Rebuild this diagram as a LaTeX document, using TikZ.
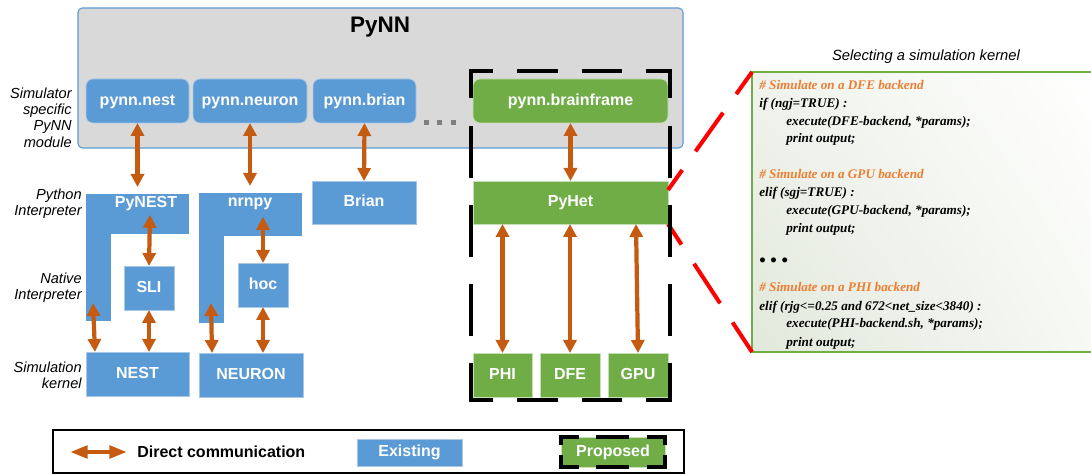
\documentclass[tikz,border=0pt]{standalone}
\usepackage{fontspec}
\setmainfont{Liberation Sans}
\newfontfamily\codefont{Liberation Serif}
\usetikzlibrary{arrows.meta,calc,shadings}

\definecolor{bluec}{HTML}{5B9BD5}
\definecolor{bluee}{HTML}{A9C8E8}
\definecolor{greenc}{HTML}{70AD47}
\definecolor{greene}{HTML}{C5E0B4}
\definecolor{grayc}{HTML}{D9D9D9}
\definecolor{arrowc}{HTML}{C55A11}
\definecolor{codeor}{HTML}{ED7D31}
\definecolor{dotc}{HTML}{7F7F7F}
\definecolor{codell}{RGB}{226,232,219}
\definecolor{codeul}{RGB}{240,243,236}
\definecolor{codelr}{RGB}{247,249,245}

\begin{document}
\begin{tikzpicture}[x=0.02cm,y=-0.02cm,
  bx/.style 2 args={minimum width={#1*0.02cm},minimum height={#2*0.02cm},inner sep=0pt,outer sep=0pt},
  boxfont/.style={font=\bfseries\fontsize{9.1}{11}\selectfont, text=white, text height=6.6pt, text depth=1.9pt},
  bluebox/.style={fill=bluec, draw=bluee, line width=0.4pt, boxfont},
  greenbox/.style={fill=greenc, draw=greene, line width=0.4pt, boxfont},
  modbox/.style={rounded corners=4pt},
  lshape/.style={fill=bluec, draw=none},
  lbltext/.style={boxfont, inner sep=0pt},
  sidelbl/.style={font=\itshape\fontsize{8.3}{9.3}\selectfont, align=right, anchor=east, inner sep=0pt},
  comm/.style={draw=arrowc, line width=2.4pt, >={Triangle[width=7.4pt,length=7.4pt]}, <->},
  legcomm/.style={draw=arrowc, line width=2.4pt, >={Triangle[width=7pt,length=10pt]}, <->},
  frameh/.style={draw=black, line width=2.3pt, line cap=rect, dash pattern=on 20.95pt off 15.9pt, dash phase=9.65pt},
  framev/.style={draw=black, line width=2.3pt, line cap=rect, dash pattern=on 27.2pt off 17.9pt, dash phase=12.8pt},
  legframeh/.style={draw=black, line width=2pt, line cap=rect, dash pattern=on 16.7pt off 11.9pt, dash phase=7.5pt},
  legframev/.style={draw=black, line width=2pt, line cap=rect, dash pattern=on 3.7pt off 7.7pt},
  reddash/.style={draw=red, line width=2.3pt, dash pattern=on 27pt off 13pt, dash phase=13pt},
  codeline/.style={font=\codefont\bfseries\itshape\fontsize{7.5}{9}\selectfont, anchor=west, inner sep=0pt, text height=5.3pt, text depth=1.5pt},
  dotsq/.style={fill=dotc, minimum size=0.1cm, inner sep=0pt},
]
\useasboundingbox (0,0) rectangle (1091,475);

% PyNN container
\node[fill=grayc, draw=bluec, line width=0.6pt, rounded corners=2.5pt, bx={605}{140}] (pynn) at (380.5,78) {};
\node[font=\bfseries\fontsize{12.8}{15}\selectfont, inner sep=0pt] (pynntitle) at (380,27) {PyNN};

% simulator specific modules
\node[bluebox, modbox, bx={103}{44}] (pynnnest) at (137.5,101) {pynn.nest};
\node[bluebox, modbox, bx={114}{44}] (pynnneuron) at (250,101) {pynn.neuron};
\node[bluebox, modbox, bx={103}{44}] (pynnbrian) at (364.5,101) {pynn.brian};
\node[greenbox, modbox, bx={195}{44}] (pynnbf) at (570.5,101) {pynn.brainframe};
\node[dotsq] (dot1) at (426,122.5) {};
\node[dotsq] (dot2) at (439.5,122.5) {};
\node[dotsq] (dot3) at (453.5,122.5) {};

% side labels
\node[sidelbl] (lblmod) at (72,117.5) {Simulator\\specific\\PyNN\\module};
\node[sidelbl] (lblpy) at (82,204) {Python\\Interpreter};
\node[sidelbl] (lblnat) at (82,288) {Native\\Interpreter};
\node[sidelbl] (lblker) at (82,375) {Simulation\\kernel};

% NEST column
\node[lshape, bx={103}{40}] (pynestbar) at (137.5,214) {};
\node[lshape, bx={25}{127}] (pynestleg) at (98.5,257.5) {};
\node[lbltext] (pynesttxt) at (146,203) {PyNEST};
\node[bluebox, bx={50}{44}] (sli) at (149,288) {SLI};
\node[bluebox, bx={103}{44}] (nest) at (137.5,374) {NEST};

% NEURON column
\node[lshape, bx={103}{43}] (nrnpybar) at (250.5,214.5) {};
\node[lshape, bx={25}{130}] (nrnpyleg) at (211.5,258) {};
\node[lbltext] (nrnpytxt) at (250,202) {nrnpy};
\node[bluebox, bx={50}{44}] (hoc) at (263,285) {hoc};
\node[bluebox, bx={104}{44}] (neuron) at (251,375) {NEURON};

% Brian
\node[bluebox, bx={104}{43}] (brian) at (364,202.5) {Brian};

% code panel
\node[font=\itshape\fontsize{8.4}{10}\selectfont, inner sep=0pt] (codetitle) at (926,57) {Selecting a simulation kernel};
\node[shade, upper left=codeul, upper right=white, lower left=codell, lower right=codelr,
      draw=greenc, line width=0.9pt, bx={348}{280}] (code) at (926,212) {};

% brainframe column
\node[greenbox, bx={195}{43}] (pyhet) at (570.5,202.5) {PyHet};
\node[greenbox, bx={59}{44}] (phi) at (502.5,375) {PHI};
\node[greenbox, bx={60}{44}] (dfe) at (570,375) {DFE};
\node[greenbox, bx={60}{44}] (gpu) at (638,375) {GPU};

% zoom lines
\draw[reddash] ($(pyhet.north east)+(0,9)$) -- (code.north west);
\draw[reddash] (pyhet.south east) -- (code.south west);

% proposed frame
\node[bx={199}{329}] (propframe) at (570.5,235.5) {};
\draw[frameh] (propframe.north west) -- (propframe.north east);
\draw[frameh] (propframe.south west) -- (propframe.south east);
\draw[framev] (propframe.north west) -- (propframe.south west);
\draw[framev] (propframe.north east) -- (propframe.south east);

% code text
\node[codeline, text=codeor] (c1) at (759,86) {\# Simulate on a DFE backend};
\node[codeline] (c2) at (759,104) {if (ngj=TRUE) :};
\node[codeline] (c3) at (786,122) {execute(DFE-backend, *params);};
\node[codeline] (c4) at (786,139) {print output;};
\node[codeline, text=codeor] (c5) at (759,175) {\# Simulate on a GPU backend};
\node[codeline] (c6) at (759,193) {elif (sgj=TRUE) :};
\node[codeline] (c7) at (786,211) {execute(GPU-backend, *params);};
\node[codeline] (c8) at (786,229) {print output;};
\node[codeline, font=\codefont\bfseries\fontsize{10.5}{12}\selectfont] (c9) at (759,263) {\textbullet\ \textbullet\ \textbullet};
\node[codeline, text=codeor] (c10) at (759,288) {\# Simulate on a PHI backend};
\node[codeline] (c11) at (759,307) {elif (rjg<=0.25 and 672<net\_size<3840) :};
\node[codeline] (c12) at (786,324) {execute(PHI-backend.sh, *params);};
\node[codeline] (c13) at (786,343) {print output;};

% communication arrows
\draw[comm] (pynnnest.south) -- ($(pynestbar.north)+(0,-7)$);
\draw[comm] (pynnneuron.south) -- ($(nrnpybar.north)+(-0.5,-7)$);
\draw[comm] (pynnbrian.south) -- (brian.north);
\draw[comm] ($(pynesttxt.south)+(4,4)$) -- (sli.north);
\draw[comm] (sli.south) -- (sli.south |- nest.north);
\draw[comm] ($(pynestleg.south)+(-5.5,-18)$) -- ($(nest.north west)+(9,0)$);
\draw[comm] ($(nrnpytxt.south -| hoc.north)+(0,7)$) -- (hoc.north);
\draw[comm] (hoc.south) -- (hoc.south |- neuron.north);
\draw[comm] ($(nrnpyleg.south)+(-0.5,-20)$) -- ($(neuron.north west)+(13,0)$);
\draw[comm] (pynnbf.south) -- (pyhet.north);
\draw[comm] (phi.north |- pyhet.south) -- (phi.north);
\draw[comm] (dfe.north |- pyhet.south) -- (dfe.north);
\draw[comm] ($(pyhet.south east)+(-32,0)$) -- (gpu.north);

% legend
\node[draw=black, line width=1.1pt, bx={631}{43}] (legend) at (368.5,451.5) {};
\coordinate (legA) at (70,452);
\coordinate (legB) at (127,452);
\draw[legcomm] (legA) -- (legB);
\node[font=\bfseries\fontsize{9.1}{11}\selectfont, anchor=west, inner sep=0pt] (legtxt) at (137,452) {Direct communication};
\node[bluebox, bx={105}{27}] (legexist) at (409.5,452.5) {Existing};
\node[greenbox, bx={104}{30}] (legprop) at (613,452) {Proposed};
\draw[legframeh] (legprop.north west) -- (legprop.north east);
\draw[legframeh] (legprop.south west) -- (legprop.south east);
\draw[legframev] (legprop.north west) -- (legprop.south west);
\draw[legframev] (legprop.north east) -- (legprop.south east);
\end{tikzpicture}
\end{document}
